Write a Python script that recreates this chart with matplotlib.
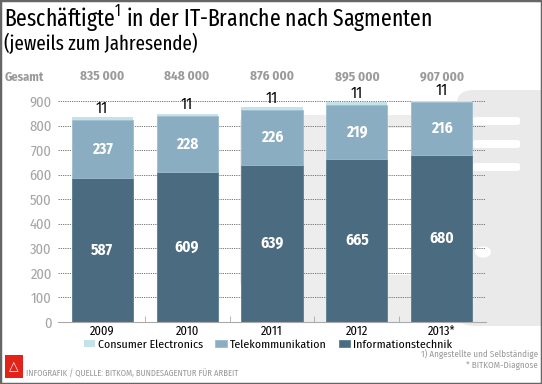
import matplotlib
matplotlib.use("Agg")
import matplotlib.pyplot as plt
from matplotlib.patches import FancyBboxPatch, Rectangle, Circle
import numpy as np

years = ["2009", "2010", "2011", "2012", "2013*"]
info_tech = [587, 609, 639, 665, 680]
telekom = [237, 228, 226, 219, 216]
consumer = [11, 11, 11, 11, 11]
totals = ["835 000", "848 000", "876 000", "895 000", "907 000"]

C_IT = "#4b6b80"
C_TEL = "#8badc2"
C_CE = "#c5e2e8"
GREY = "#9a9a9a"
TITLE_FONT = ["Fira Sans Extra Condensed", "Fira Sans Condensed", "DejaVu Sans"]
plt.rcParams["font.family"] = ["Fira Sans Condensed", "DejaVu Sans"]
plt.rcParams["mathtext.fontset"] = "custom"
plt.rcParams["mathtext.rm"] = "Fira Sans Extra Condensed"

W, H = 542, 384
fig = plt.figure(figsize=(W / 100, H / 100), dpi=100)


def px(x, y):
    return x / W, 1 - y / H


def box(x0, y0, x1, y1, fc, r=0, z=-5):
    (fx0, fy1), (fx1, fy0) = px(x0, y0), px(x1, y1)
    if r:
        p = FancyBboxPatch((fx0, fy0), fx1 - fx0, fy1 - fy0,
                           boxstyle=f"round,pad=0,rounding_size={r / W}",
                           transform=fig.transFigure, fc=fc, ec="none", zorder=z)
    else:
        p = Rectangle((fx0, fy0), fx1 - fx0, fy1 - fy0, transform=fig.transFigure,
                      fc=fc, ec="none", zorder=z)
    fig.patches.append(p)


def fit(t, width_px):
    # shrink/grow a text so it spans the reference width
    r = fig.canvas.get_renderer()
    w = t.get_window_extent(r).width
    t.set_fontsize(t.get_fontsize() * width_px / w)


# faint device illustration behind the chart
box(240, 115, 470, 289, "#ededed", r=10)
box(332, 128, 456, 275, "white", z=-4)
box(290, 289, 420, 322, "#ededed")
box(457, 90, 560, 326, "#eaeaea", r=18, z=-3)
for yy in (117, 140, 163):
    box(473, yy, 520, yy + 8, "white", r=3, z=-2)
fig.patches.append(Circle(px(483, 252), 8 / W, transform=fig.transFigure,
                          fc="white", ec="none", zorder=-2))

ax = fig.add_axes([58 / W, 1 - 322 / H, 428 / W, 221 / H])
ax.patch.set_alpha(0)
x = np.arange(len(years))
bw = 0.72
ax.bar(x, info_tech, bw, color=C_IT, edgecolor="#5d7d91", lw=0.6, zorder=3,
       label="Informationstechnik")
ax.bar(x, telekom, bw, bottom=info_tech, color=C_TEL, edgecolor="#9dbccf", lw=0.6,
       zorder=3, label="Telekommunikation")
bot2 = np.array(info_tech) + np.array(telekom)
ax.bar(x, consumer, bw, bottom=bot2, color=C_CE, edgecolor="none", zorder=3,
       label="Consumer Electronics")

for i in range(len(years)):
    ax.text(x[i], info_tech[i] / 2, str(info_tech[i]), ha="center", va="center",
            color="white", fontsize=11, fontweight="bold", zorder=4)
    ax.text(x[i], info_tech[i] + telekom[i] / 2, str(telekom[i]), ha="center",
            va="center", color="white", fontsize=11, fontweight="bold", zorder=4)
    ax.text(x[i], bot2[i] + consumer[i] + 4, str(consumer[i]), ha="center",
            va="bottom", color="black", fontsize=11.5, zorder=4, clip_on=False)
    ax.text(x[i], 1.11, totals[i], transform=ax.get_xaxis_transform(), ha="center",
            va="center", color=GREY, fontsize=9.5, fontweight="bold")
fig.text(*px(5, 77), "Gesamt", ha="left", va="center", color=GREY,
         fontsize=9, fontweight="bold")

ax.set_xlim(-0.52, 4.52)
ax.set_ylim(0, 900)
ax.set_yticks(range(0, 901, 100))
ax.yaxis.grid(True, ls=(0, (1.5, 1.2)), color="#666666", lw=0.6, zorder=0)
ax.tick_params(axis="y", length=0, pad=4.5, labelsize=10.5, labelcolor="#a5a5a5")
ax.set_xticks(x)
ax.set_xticklabels(years)
ax.tick_params(axis="x", length=0, pad=2, labelsize=9)
ax.set_xticks(x[:-1] + 0.5, minor=True)
ax.tick_params(axis="x", which="minor", length=4, direction="in", color="#aaaaaa")
for s in ("top", "right", "left"):
    ax.spines[s].set_visible(False)
ax.spines["bottom"].set_color("#aaaaaa")
ax.spines["bottom"].set_zorder(5)
ax.set_axisbelow(True)

h, l = ax.get_legend_handles_labels()
fig.legend(h[::-1], l[::-1], loc="center", bbox_to_anchor=(px(268, 345)),
           ncol=3, frameon=False, fontsize=8.5, handlelength=1.0, handleheight=0.55,
           handletextpad=0.25, columnspacing=1.0)

t1 = fig.text(*px(4, 3), "Beschäftigte$^{1}$ in der IT-Branche nach Sagmenten",
              ha="left", va="top", fontsize=19, family=TITLE_FONT)
t2 = fig.text(*px(4, 33), "(jeweils zum Jahresende)", ha="left", va="top",
              fontsize=15, family=TITLE_FONT)
fit(t1, 428)
fit(t2, 193)

fig.text(*px(538, 354), "1) Angestellte und Selbständige", ha="right", va="center",
         color=GREY, fontsize=6.5)
fig.text(*px(538, 366), "* BITKOM-Diagnose", ha="right", va="center",
         color=GREY, fontsize=6.5)
fig.text(*px(26, 373), "INFOGRAFIK / QUELLE: BITKOM, BUNDESAGENTUR FÜR ARBEIT",
         ha="left", va="center", color=GREY, fontsize=6.2)

# logo
box(5, 355, 23, 378, "#e2231a", z=2)
fig.text(*px(14, 367), "\u25b3", ha="center", va="center", color="white",
         fontsize=9, family="DejaVu Sans", fontweight="bold")

fig.patches.append(Rectangle((0, 0), 1, 1, transform=fig.transFigure, fill=False,
                             ec="#666666", lw=2.5, zorder=10))

fig.savefig("out.png", dpi=100)
